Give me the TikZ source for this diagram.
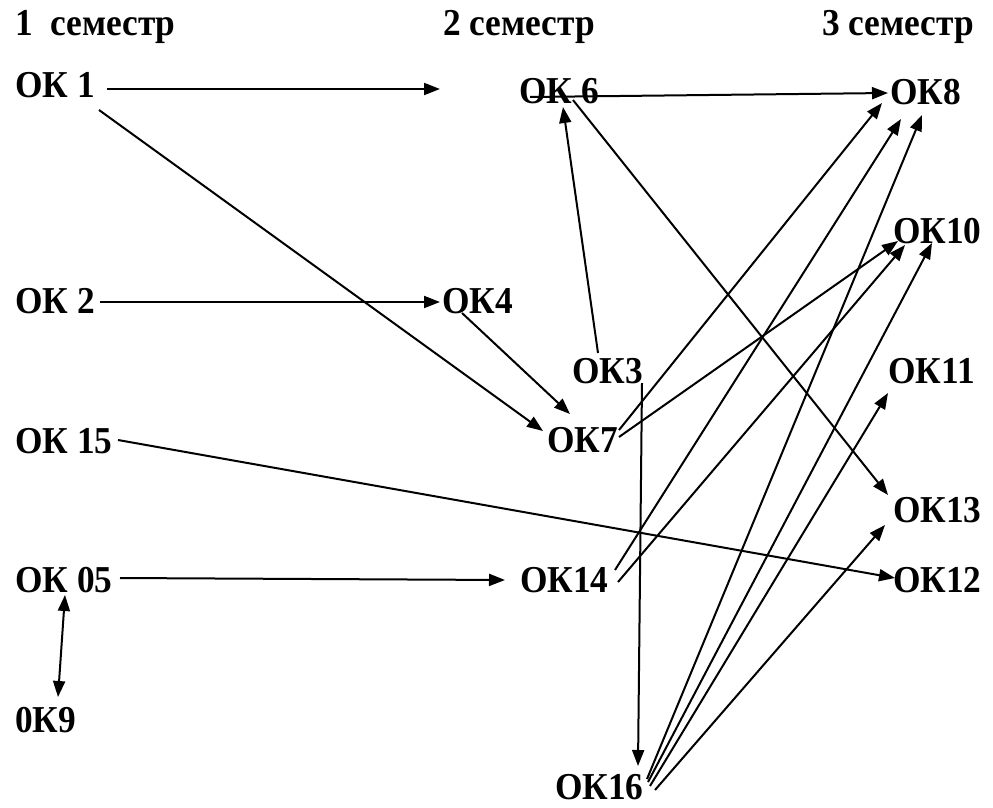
\documentclass[tikz,border=0pt]{standalone}
\usepackage{fontspec}
\setmainfont[FakeStretch=0.93]{Liberation Serif}
\usetikzlibrary{arrows.meta}
\begin{document}
\begin{tikzpicture}[x=1pt,y=-1pt,
  lbl/.style={anchor=base west, inner sep=0pt, font=\fontsize{38}{44}\selectfont\bfseries},
  conn/.style={line width=2pt, -{Triangle[length=16pt,width=12pt]}},
  both/.style={line width=2pt, {Triangle[length=16pt,width=12pt]}-{Triangle[length=16pt,width=12pt]}}]
\useasboundingbox[fill=white] (0,0) rectangle (993,808);
% headers
\node[lbl] (s1) at (15,36) {1\ \ семестр};
\node[lbl] (s2) at (443,36) {2 семестр};
\node[lbl] (s3) at (822,36) {3 семестр};
% semester 1
\node[lbl] (ok1) at (15,97) {ОК 1};
\node[lbl] (ok2) at (15,313) {ОК 2};
\node[lbl] (ok15) at (15,453) {ОК 15};
\node[lbl] (ok05) at (15,592) {ОК 05};
\node[lbl] (ok9) at (15,732) {0К9};
% semester 2
\node[lbl] (ok6) at (519,103) {ОК 6};
\node[lbl] (ok4) at (442,313) {ОК4};
\node[lbl] (ok3) at (572,383) {ОК3};
\node[lbl] (ok7) at (547,452) {ОК7};
\node[lbl] (ok14) at (520,592) {ОК14};
\node[lbl] (ok16) at (555,799) {ОК16};
% semester 3
\node[lbl] (ok8) at (890,104) {ОК8};
\node[lbl] (ok10) at (893,243) {ОК10};
\node[lbl] (ok11) at (888,383) {ОК11};
\node[lbl] (ok13) at (893,522) {ОК13};
\node[lbl] (ok12) at (893,592) {ОК12};
% free end
\coordinate (free1) at (440,89);
% connectors
\draw[conn] ([shift={(92,-8)}]ok1.base west) -- (free1);
\draw[conn] ([shift={(84,13)}]ok1.base west) -- ([shift={(-4,-21)}]ok7.base west);
\draw[conn] ([shift={(85,-11)}]ok2.base west) -- ([shift={(-2,-11)}]ok4.base west);
\draw[conn] ([shift={(20,0)}]ok4.base west) -- ([shift={(23,-38)}]ok7.base west);
\draw[conn] ([shift={(103,-13)}]ok15.base west) -- ([shift={(2,-14)}]ok12.base west);
\draw[conn] ([shift={(105,-14)}]ok05.base west) -- ([shift={(-15,-12)}]ok14.base west);
\draw[both] ([shift={(50,3)}]ok05.base west) -- ([shift={(43,-35)}]ok9.base west);
\draw[conn] ([shift={(11,-6)}]ok6.base west) -- ([shift={(-2,-11)}]ok8.base west);
\draw[conn] ([shift={(54,-3)}]ok6.base west) -- ([shift={(-5,-27)}]ok13.base west);
\draw[conn] ([shift={(26,-30)}]ok3.base west) -- ([shift={(44,4)}]ok6.base west);
\draw[conn] ([shift={(70,0)}]ok3.base west) -- ([shift={(83,-33)}]ok16.base west);
\draw[conn] ([shift={(72,-22)}]ok7.base west) -- ([shift={(-8,-1)}]ok8.base west);
\draw[conn] ([shift={(72,-15)}]ok7.base west) -- ([shift={(5,-2)}]ok10.base west);
\draw[conn] ([shift={(95,-22)}]ok14.base west) -- ([shift={(11,15)}]ok8.base west);
\draw[conn] ([shift={(98,-10)}]ok14.base west) -- ([shift={(12,2)}]ok10.base west);
\draw[conn] ([shift={(92,-20)}]ok16.base west) -- ([shift={(32,11)}]ok8.base west);
\draw[conn] ([shift={(93,-17)}]ok16.base west) -- ([shift={(39,0)}]ok10.base west);
\draw[conn] ([shift={(95,-13)}]ok16.base west) -- ([shift={(0,10)}]ok11.base west);
\draw[conn] ([shift={(100,-9)}]ok16.base west) -- ([shift={(-8,3)}]ok13.base west);
\end{tikzpicture}
\end{document}
